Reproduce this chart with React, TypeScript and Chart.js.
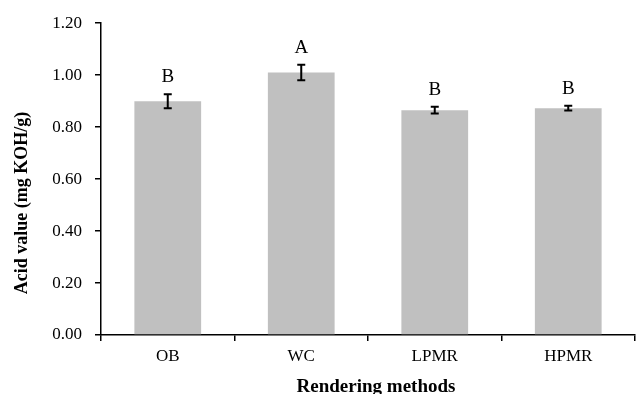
import React, { useEffect, useRef } from "react";
import { Chart, registerables } from "chart.js";

Chart.register(...registerables);

const categories = ["OB", "WC", "LPMR", "HPMR"];
const acidValues = [0.9, 1.01, 0.865, 0.873];
const errors = [0.027, 0.03, 0.013, 0.009];
const letters = ["B", "A", "B", "B"];
const yTicks = [0, 0.2, 0.4, 0.6, 0.8, 1.0, 1.2];

const SERIF = "'Liberation Serif', 'Times New Roman', serif";

const errorPlugin = {
  id: "errLetters",
  afterDatasetsDraw(chart: any) {
    const ctx = chart.ctx;
    const meta = chart.getDatasetMeta(0);
    const ys = chart.scales.y;
    ctx.save();
    ctx.strokeStyle = "#000";
    ctx.lineWidth = 2;
    meta.data.forEach((bar: any, i: number) => {
      const x = bar.x;
      const top = ys.getPixelForValue(acidValues[i] + errors[i]);
      const bot = ys.getPixelForValue(acidValues[i] - errors[i]);
      ctx.beginPath();
      ctx.moveTo(x, top);
      ctx.lineTo(x, bot);
      ctx.moveTo(x - 4, top);
      ctx.lineTo(x + 4, top);
      ctx.moveTo(x - 4, bot);
      ctx.lineTo(x + 4, bot);
      ctx.stroke();
      ctx.fillStyle = "#000";
      ctx.font = `19px ${SERIF}`;
      ctx.textAlign = "center";
      ctx.textBaseline = "alphabetic";
      ctx.fillText(letters[i], x, top - 12);
    });
    ctx.restore();
  },
  afterDraw(chart: any) {
    const ctx = chart.ctx;
    const a = chart.chartArea;
    ctx.save();
    ctx.fillStyle = "#000";
    ctx.textAlign = "center";
    ctx.font = `bold 19px ${SERIF}`;
    ctx.textBaseline = "alphabetic";
    ctx.fillText("Rendering methods", (a.left + a.right) / 2 + 8, 392);
    ctx.font = `bold 18px ${SERIF}`;
    ctx.textBaseline = "middle";
    ctx.translate(22, (a.top + a.bottom) / 2 + 24);
    ctx.rotate(-Math.PI / 2);
    ctx.fillText("Acid value (mg KOH/g)", 0, 0);
    ctx.restore();
  },
};

export default function App() {
  const ref = useRef<HTMLCanvasElement>(null);
  useEffect(() => {
    document.body.style.margin = "0";
    const chart = new Chart(ref.current!, {
      type: "bar",
      data: {
        labels: categories,
        datasets: [
          {
            data: acidValues,
            backgroundColor: "#C0C0C0",
            borderWidth: 0,
            barPercentage: 0.5,
            categoryPercentage: 1,
          },
        ],
      },
      options: {
        animation: false,
        responsive: false,
        maintainAspectRatio: false,
        layout: { padding: { top: 17, right: 1, left: 0, bottom: 0 } },
        plugins: {
          legend: { display: false },
          tooltip: { enabled: false },
        },
        scales: {
          x: {
            offset: true,
            afterFit: (s: any) => {
              s.height = 394 - 17 - 318;
            },
            grid: {
              display: true,
              drawOnChartArea: false,
              drawTicks: true,
              tickLength: 6,
              offset: true,
              color: "#000",
              lineWidth: 1.5,
            },
            border: { display: true, color: "#000", width: 1.5 },
            ticks: {
              color: "#000",
              padding: 5,
              font: { family: SERIF, size: 17 },
            },
          },
          y: {
            min: 0,
            max: 1.2,
            afterFit: (s: any) => {
              s.width = 101;
            },
            afterBuildTicks: (s: any) => {
              s.ticks = yTicks.map((v) => ({ value: v }));
            },
            grid: {
              display: true,
              drawOnChartArea: false,
              drawTicks: true,
              tickLength: 6,
              color: "#000",
              lineWidth: 1.5,
            },
            border: { display: true, color: "#000", width: 1.5 },
            ticks: {
              color: "#000",
              padding: 13,
              font: { family: SERIF, size: 17 },
              callback: (v: any) => Number(v).toFixed(2),
            },
          },
        },
      },
      plugins: [errorPlugin],
    });
    return () => chart.destroy();
  }, []);
  return (
    <div style={{ width: 636, height: 394 }}>
      <canvas ref={ref} width={636} height={394} style={{ display: "block" }} />
    </div>
  );
}
